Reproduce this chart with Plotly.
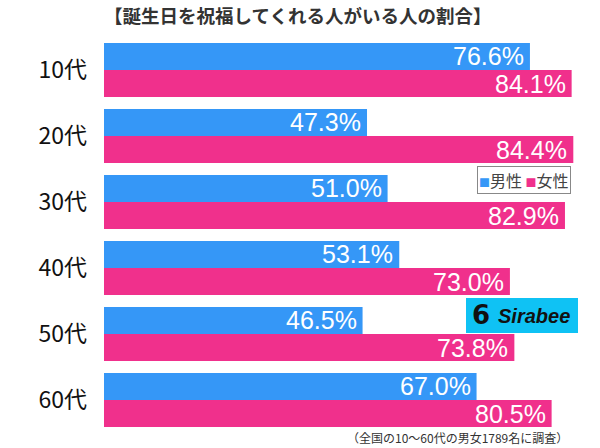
import plotly.graph_objects as go

categories = ["10代", "20代", "30代", "40代", "50代", "60代"]
male = [76.6, 47.3, 51.0, 53.1, 46.5, 67.0]
female = [84.1, 84.4, 82.9, 73.0, 73.8, 80.5]
series_names = ["男性", "女性"]
title_text = "【誕生日を祝福してくれる人がいる人の割合】"
note_text = "（全国の10〜60代の男女1789名に調査）"

BLUE = "#3597f7"
PINK = "#f0308c"
NUM_FONT = "Liberation Sans, Arial, sans-serif"
JP_FONT = "Noto Sans CJK JP, sans-serif"

W, H = 600, 448
L, R, T, B = 104, 0, 37, 15
PW, PH = W - L - R, H - T - B
BAR_GAP = 0.18
HALF_BAR = (PH / len(categories)) * (1 - BAR_GAP) / 4  # offset of each bar centre


def px(xw):
    return (xw - L) / PW


def py(yw):
    return (H - B - yw) / PH


fig = go.Figure()
for name, vals, col in [(series_names[0], male, BLUE), (series_names[1], female, PINK)]:
    fig.add_trace(go.Bar(
        y=categories, x=vals, name=name, orientation="h",
        marker=dict(color=col, line=dict(width=0)),
        showlegend=False, hoverinfo="x+y",
    ))

# value labels placed via the data axes
for vals, shift in [(male, HALF_BAR), (female, -HALF_BAR)]:
    for c, v in zip(categories, vals):
        fig.add_annotation(x=v, y=c, xref="x", yref="y", text=f"{v:.1f}%",
                           xanchor="right", yanchor="middle", xshift=-4, yshift=shift,
                           showarrow=False,
                           font=dict(color="white", size=25, family=NUM_FONT))

fig.update_layout(
    width=W, height=H,
    margin=dict(l=L, r=R, t=T, b=B, autoexpand=False),
    paper_bgcolor="white", plot_bgcolor="white",
    barmode="group", bargap=BAR_GAP, bargroupgap=0,
    xaxis=dict(range=[0, 89.2], visible=False, fixedrange=True),
    yaxis=dict(autorange="reversed", showgrid=False, zeroline=False, showline=False,
               ticks="", ticklabelstandoff=16, automargin=False, fixedrange=True,
               tickfont=dict(size=23, color="#111111", family=JP_FONT)),
    font=dict(family=JP_FONT),
)


def ann(text, xw, yw, size, color, family, xanchor="center", **kw):
    fig.add_annotation(text=text, xref="paper", yref="paper",
                       x=px(xw), y=py(yw), xanchor=xanchor, yanchor="middle",
                       showarrow=False,
                       font=dict(size=size, color=color, family=family), **kw)


ann(f"<b>{title_text}</b>", 297, 15, 18.5, "#333333", JP_FONT)
ann(note_text, 570, 437, 12, "#333333", JP_FONT, xanchor="right")

# legend (manual)
legend_text = (f'<span style="color:{BLUE};font-size:11px">■</span>{series_names[0]} '
               f'<span style="color:{PINK};font-size:11px">■</span>{series_names[1]}')
ann(legend_text, 524, 180, 16, "#444444", JP_FONT,
    bordercolor="#888888", borderwidth=1, borderpad=1, bgcolor="white")

# Sirabee logo
fig.add_shape(type="rect", xref="paper", yref="paper",
              x0=px(466), x1=px(578), y0=py(333), y1=py(298),
              fillcolor="#0fc2f4", line=dict(width=0), layer="above")
ann("<b><i>Sirabee</i></b>", 534, 316, 20, "#111111", "Liberation Sans, Arial, sans-serif")
ann("<b>6</b>", 481, 315, 26, "#111111", "DejaVu Sans, sans-serif")

fig.write_html("out.html",
               config={"displayModeBar": False},
               post_script="document.body.style.margin='0';document.body.style.overflow='hidden';")
